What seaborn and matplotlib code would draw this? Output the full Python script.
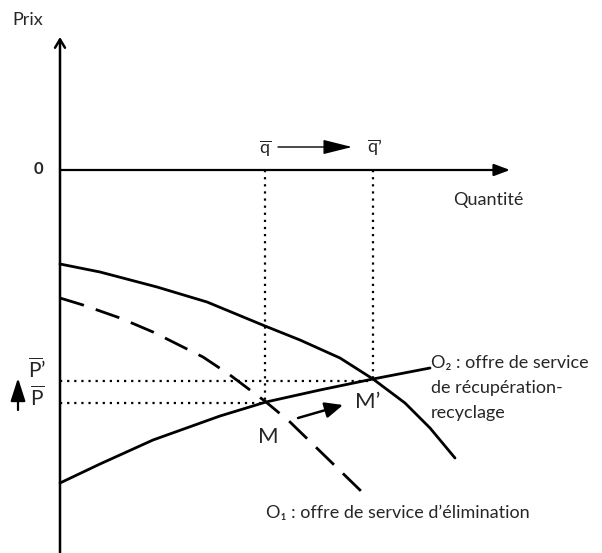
import matplotlib
matplotlib.use("Agg")
import matplotlib.pyplot as plt
import seaborn as sns
import pandas as pd

sns.set_theme(style="white")
plt.rcParams['font.family'] = ['Lato', 'DejaVu Sans']
plt.rcParams['mathtext.fontset'] = 'custom'
plt.rcParams['mathtext.rm'] = 'Lato'
plt.rcParams['mathtext.it'] = 'Lato'

# ---- data (quantity q, price p; price axis zero at the horizontal axis) ----
curve_d_q = [0, 40, 97, 147, 205, 240, 280, 313, 345, 370, 395]
curve_d_p = [-94, -102, -117, -132, -156, -170, -188, -209, -233, -258, -288]

o1_q = [0, 23, 60, 93, 143, 170, 206, 230, 302]
o1_p = [-128, -135, -148, -162, -187, -205, -232, -252, -322]

o2_q = [0, 40, 93, 160, 206, 260, 313, 370]
o2_p = [-313, -294, -270, -246, -232, -220, -209, -198]

q_bar, p_bar = 205, -233        # M
q_bar2, p_bar2 = 313, -211      # M'

label_o2 = ["O₂ : offre de service", "de récupération-", "recyclage"]
label_o1 = "O₁ : offre de service d’élimination"

# ---- figure ----
fig = plt.figure(figsize=(6.02, 5.53), dpi=100)
ax = fig.add_axes([0, 0, 1, 1])
ax.set_xlim(-60, 542)
ax.set_ylim(-383, 170)
ax.axis("off")

k = "black"
df_d = pd.DataFrame({"q": curve_d_q, "p": curve_d_p})
df_1 = pd.DataFrame({"q": o1_q, "p": o1_p})
df_2 = pd.DataFrame({"q": o2_q, "p": o2_p})
sns.lineplot(data=df_d, x="q", y="p", sort=False, estimator=None, color=k, lw=2.0, ax=ax)
sns.lineplot(data=df_2, x="q", y="p", sort=False, estimator=None, color=k, lw=2.0, ax=ax)
sns.lineplot(data=df_1, x="q", y="p", sort=False, estimator=None, color=k, lw=2.0, ax=ax)
ax.lines[-1].set_dashes((9, 4.5))

# axes with arrows
ax.annotate("", xy=(0, 133), xytext=(0, -395),
            arrowprops=dict(arrowstyle="->,head_length=0.5,head_width=0.3", lw=1.8, color=k,
                            mutation_scale=12, shrinkA=0, shrinkB=0))
ax.annotate("", xy=(450, 0), xytext=(0, 0),
            arrowprops=dict(arrowstyle="-|>,head_length=0.8,head_width=0.3", lw=1.6, color=k,
                            mutation_scale=12, shrinkA=0, shrinkB=0))

# dotted guides
dot = dict(color=k, lw=1.6, dashes=(1, 2.2))
ax.plot([q_bar, q_bar], [0, p_bar], **dot)
ax.plot([q_bar2, q_bar2], [0, p_bar2], **dot)
ax.plot([0, q_bar2], [p_bar2, p_bar2], **dot)
ax.plot([0, q_bar], [p_bar, p_bar], **dot)

# texts
fs = 13
ax.text(-48, 150, "Prix", fontsize=fs, ha="left", va="center")
ax.text(-22, 1, "0", fontsize=12, ha="center", va="center", fontweight="bold")
ax.text(393, -30, "Quantité", fontsize=fs, ha="left", va="center")
ax.text(q_bar, 22, r"$\overline{\mathrm{q}}$", fontsize=fs, ha="center", va="center")
ax.text(q_bar2 + 2, 22, r"$\overline{\mathrm{q}}$’", fontsize=fs, ha="center", va="center")
ax.annotate("", xy=(292, 23), xytext=(218, 23),
            arrowprops=dict(arrowstyle="-|>,head_length=1.2,head_width=0.3", lw=1.0, color=k,
                            mutation_scale=15, shrinkA=0, shrinkB=0))

ax.text(-23, -200, r"$\overline{\mathrm{P}}$’", fontsize=15, ha="center", va="center")
ax.text(-23, -228, r"$\overline{\mathrm{P}}$", fontsize=15, ha="center", va="center")
ax.annotate("", xy=(-42, -208), xytext=(-42, -240),
            arrowprops=dict(arrowstyle="-|>,head_length=1.4,head_width=0.45", lw=1.6, color=k,
                            mutation_scale=10, shrinkA=0, shrinkB=0))

ax.text(q_bar + 3, -267, "M", fontsize=16, ha="center", va="center")
ax.text(q_bar2 - 5, -232, "M’", fontsize=16, ha="center", va="center")
ax.annotate("", xy=(283, -235), xytext=(238, -248),
            arrowprops=dict(arrowstyle="-|>,head_length=0.9,head_width=0.4", lw=1.8, color=k,
                            mutation_scale=12, shrinkA=0, shrinkB=0))

for i, t in enumerate(label_o2):
    ax.text(371, -193 - 25 * i, t, fontsize=fs, ha="left", va="center")
ax.text(470, -343, label_o1, fontsize=fs, ha="right", va="center")

fig.savefig("out.png", dpi=100)
